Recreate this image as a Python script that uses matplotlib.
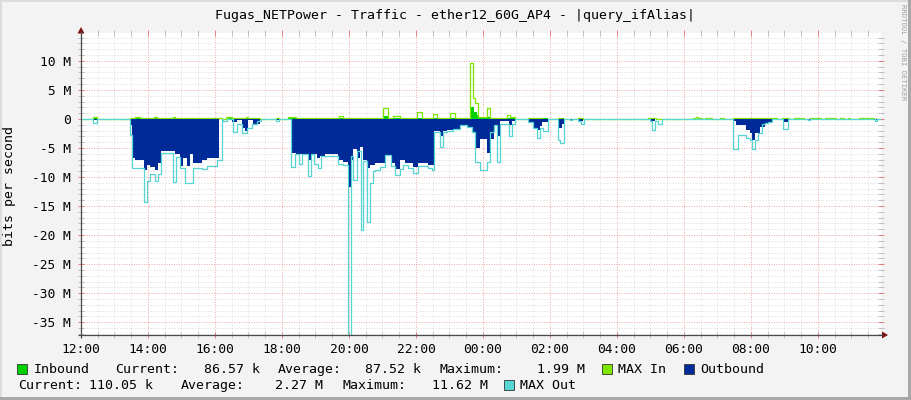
import matplotlib
matplotlib.use('Agg')
import matplotlib.pyplot as plt
from matplotlib.patches import Rectangle, Polygon
from matplotlib.ticker import MultipleLocator
import numpy as np

plt.rcParams['font.family'] = ['DejaVu Sans Mono']

# ---------------- data ----------------
title = "Fugas_NETPower - Traffic - ether12_60G_AP4 - |query_ifAlias|"
y_label = "bits per second"
credit = "RRDTOOL / TOBI OETIKER"
x_tick_labels = ["12:00", "14:00", "16:00", "18:00", "20:00", "22:00",
                 "00:00", "02:00", "04:00", "06:00", "08:00", "10:00"]
y_ticks = [10, 5, 0, -5, -10, -15, -20, -25, -30, -35]
y_tick_labels = ["10 M", "5 M", "0", "-5 M", "-10 M", "-15 M", "-20 M",
                 "-25 M", "-30 M", "-35 M"]
END = "11:53"

# Inbound average (Mbit/s), step start times
inbound_t = ["12:00", "12:22", "12:29", "13:27", "13:37", "13:45", "14:10", "14:16",
             "14:44", "14:49", "16:12", "16:24", "17:20", "18:10", "21:02", "21:10",
             "23:38", "23:44", "23:50", "23:53", "00:07", "00:13", "00:58", "01:21",
             "01:57", "02:14", "02:26", "02:50", "03:00", "07:28", "08:45"]
inbound_v = [0, 0.15, 0, 0.1, 0.2, 0.1, 0.2, 0.1,
             0.2, 0.1, 0, 0.1, 0, 0.1, 0.5, 0.1,
             1.99, 1.2, 0.7, 0.1, 0.3, 0.1, 0, 0.1,
             0, 0.1, 0, 0.05, 0, 0.08, 0]

# MAX In (Mbit/s)
max_in_t = ["12:00", "12:22", "12:29", "13:27", "13:37", "13:45", "14:10", "14:16",
            "14:44", "14:49", "16:12", "16:20", "16:30", "16:55", "17:00", "17:20",
            "17:50", "17:55", "18:10", "18:25", "19:43", "19:49", "21:01", "21:10",
            "21:19", "21:31", "22:01", "22:10", "22:31", "22:37", "23:01", "23:10",
            "23:37", "23:43", "23:46", "23:52", "00:07", "00:13", "00:43", "00:49",
            "00:58", "01:21", "01:45", "02:14", "02:20", "02:50", "03:00", "04:56",
            "05:10", "06:16", "06:21", "06:25", "06:32", "06:37", "06:50", "07:05",
            "07:12", "07:28", "08:47", "08:55", "09:08", "09:17", "09:35", "09:45",
            "10:06", "10:13", "10:33", "10:40", "10:46", "10:53", "10:58", "11:13",
            "11:40"]
max_in_v = [0, 0.3, 0, 0.2, 0.4, 0.2, 0.4, 0.2,
            0.4, 0.2, 0, 0.3, 0.1, 0.3, 0.1, 0,
            0.1, 0, 0.3, 0.2, 0.5, 0.2, 1.9, 0.2,
            0.5, 0.2, 1.2, 0.2, 0.9, 0.2, 1.0, 0.2,
            9.6, 3.6, 2.8, 0.3, 1.9, 0.2, 0.7, 0.3,
            0, 0.2, 0, 0.2, 0, 0.2, 0, 0.15,
            0, 0.2, 0.4, 0.2, 0, 0.15, 0, 0.15,
            0, 0.15, 0, 0.15, 0, 0.15, 0, 0.15,
            0, 0.15, 0, 0.15, 0, 0.15, 0, 0.15,
            0]

# Outbound average (Mbit/s, drawn below zero)
out_t = ["12:00", "12:22", "12:29", "13:27", "13:31", "13:37", "13:52", "13:58",
         "14:04", "14:13", "14:18", "14:23", "14:48", "14:57", "15:03", "15:09",
         "15:15", "15:21", "15:36", "15:45", "16:08", "16:30", "16:39", "16:48",
         "16:54", "17:00", "17:08", "17:20", "17:50", "17:55", "18:16", "18:25",
         "18:47", "18:53", "19:02", "19:08", "19:17", "19:41", "19:50", "19:59",
         "20:03", "20:08", "20:14", "20:20", "20:26", "20:32", "20:38", "20:47",
         "20:56", "21:04", "21:16", "21:22", "21:31", "21:40", "21:55", "22:04",
         "22:22", "22:33", "22:43", "22:49", "22:55", "23:07", "23:19", "23:31",
         "23:40", "23:46", "23:55", "00:07", "00:13", "00:19", "00:25", "00:31",
         "00:46", "00:52", "00:58", "01:21", "01:30", "01:36", "01:42", "01:45",
         "01:57", "02:14", "02:21", "02:26", "02:36", "02:40", "02:52", "03:00",
         "04:59", "05:08", "07:28", "07:34", "07:52", "07:58", "08:02", "08:07",
         "08:16", "08:25", "08:31", "08:37", "08:58", "09:06", "09:42", "09:46",
         "11:42", "11:46"]
out_v = [0, 0.1, 0, 1.0, 6.7, 7.1, 8.8, 8.0,
         8.2, 8.8, 7.6, 5.6, 6.0, 8.1, 6.7, 8.1,
         6.0, 7.5, 7.0, 6.7, 0, 0.5, 0.1, 1.6,
         2.0, 0.1, 0.8, 0, 0.2, 0, 5.9, 6.1,
         7.1, 6.1, 6.8, 6.3, 6.1, 7.0, 7.4, 11.7,
         7.0, 5.1, 6.8, 4.8, 7.0, 8.5, 8.0, 7.6,
         7.5, 6.2, 7.6, 8.6, 7.1, 7.5, 8.2, 7.5,
         7.9, 2.0, 3.0, 2.0, 1.9, 1.8, 1.1, 1.4,
         2.2, 5.0, 3.5, 5.9, 3.5, 1.0, 3.0, 0.4,
         1.0, 0.3, 0, 0.6, 1.5, 1.9, 1.2, 0.6,
         0, 1.6, 0.9, 0, 0.2, 0, 0.4, 0,
         0.4, 0, 0.4, 1.0, 1.9, 2.5, 3.6, 2.5,
         1.3, 0.7, 0.5, 0, 0.5, 0, 0.2, 0,
         0.2, 0]

# MAX Out (Mbit/s, drawn below zero)
max_out_t = ["12:00", "12:22", "12:29", "13:27", "13:31", "13:52", "13:58", "14:04",
             "14:13", "14:18", "14:23", "14:45", "14:51", "14:57", "15:06", "15:21",
             "15:36", "15:45", "16:04", "16:12", "16:15", "16:21", "16:33", "16:39",
             "16:48", "16:57", "17:06", "17:15", "17:23", "17:50", "17:55", "18:16",
             "18:23", "18:30", "18:35", "18:46", "18:52", "18:58", "19:04", "19:10",
             "19:41", "19:50", "19:59", "20:03", "20:08", "20:14", "20:22", "20:26",
             "20:32", "20:38", "20:43", "20:47", "20:56", "21:04", "21:16", "21:22",
             "21:31", "21:37", "21:46", "21:55", "22:04", "22:22", "22:28", "22:33",
             "22:43", "22:49", "22:55", "23:07", "23:19", "23:31", "23:40", "23:46",
             "23:55", "00:07", "00:13", "00:19", "00:25", "00:31", "00:46", "00:52",
             "00:58", "01:21", "01:30", "01:36", "01:42", "01:48", "01:57", "02:14",
             "02:18", "02:26", "02:36", "02:40", "02:50", "02:55", "03:01", "04:59",
             "05:03", "05:08", "05:14", "05:20", "07:28", "07:37", "07:52", "07:58",
             "08:02", "08:07", "08:13", "08:19", "08:25", "08:31", "08:37", "08:58",
             "09:06", "09:42", "09:46", "11:42", "11:46"]
max_out_v = [0, 0.7, 0, 2.8, 8.5, 14.3, 10.6, 9.5,
             10.6, 9.5, 5.9, 10.8, 6.5, 8.5, 11.0, 8.5,
             8.7, 8.1, 7.0, 0, 0.4, 0, 2.2, 0.8,
             2.4, 1.6, 0.8, 0.4, 0, 0.3, 0, 8.2,
             6.1, 7.7, 6.1, 9.9, 6.1, 7.8, 8.5, 6.3,
             7.7, 8.0, 40.0, 6.3, 10.5, 5.6, 19.1, 7.3,
             17.7, 11.0, 9.0, 8.8, 8.3, 6.2, 8.1, 9.7,
             8.7, 7.9, 8.5, 9.3, 8.1, 8.5, 8.8, 2.2,
             4.8, 2.2, 2.0, 1.8, 1.0, 1.4, 2.2, 7.4,
             8.8, 7.4, 2.2, 1.0, 7.4, 0.8, 3.0, 0.8,
             0, 0.6, 1.6, 3.2, 1.6, 2.0, 0, 3.6,
             4.1, 0, 0.2, 0, 0.4, 0.8, 0, 0.4,
             1.9, 0.4, 0.8, 0, 5.1, 2.8, 3.2, 3.6,
             5.2, 3.6, 2.5, 0.9, 0.7, 0.6, 0, 1.8,
             0, 0.2, 0, 0.3, 0]

legend_row1 = ["Inbound", "Current:", "86.57 k", "Average:", "87.52 k",
               "Maximum:", "1.99 M", "MAX In", "Outbound"]
legend_row2 = ["Current:", "110.05 k", "Average:", "2.27 M", "Maximum:",
               "11.62 M", "MAX Out"]

# ---------------- style ----------------
C_IN = '#00CF00'
C_MAXIN = '#7EE600'
C_OUT = '#002A97'
C_MAXOUT = '#55D6D3'
GRID = '#D9D9D9'
MGRID = '#F0ABAB'
AXIS = '#4A4A4A'
ARROW = '#7F1111'
BG = '#F3F3F3'
FS = 9.3

W, H = 911, 400
L, R, T, B = 81, 881, 33, 335


def hours(s):
    h, m = map(int, s.split(':'))
    return (h - 12) % 24 + m / 60.0


def series(times, vals):
    t = np.array([hours(s) for s in times] + [hours(END)])
    v = np.array(list(vals) + [vals[-1]], dtype=float)
    return t, v


fig = plt.figure(figsize=(W / 100, H / 100), dpi=100)
fig.patch.set_facecolor(BG)

ax = fig.add_axes([L / W, 1 - B / H, (R - L) / W, (B - T) / H])
ax.set_facecolor('white')

ti, vi = series(inbound_t, inbound_v)
ax.fill_between(ti, 0, vi, step='post', color=C_IN, lw=0, zorder=3)
tmi, vmi = series(max_in_t, max_in_v)
ax.step(tmi, vmi, where='post', color=C_MAXIN, lw=0.9, zorder=4)
to, vo = series(out_t, out_v)
ax.fill_between(to, 0, -vo, step='post', color=C_OUT, lw=0, zorder=5)
tmo, vmo = series(max_out_t, max_out_v)
ax.step(tmo, -vmo, where='post', color=C_MAXOUT, lw=0.9, zorder=6)

ax.set_xlim(0, hours(END))
ax.set_ylim(-37.2, 14.8)
ax.set_xticks([hours(s) for s in x_tick_labels])
ax.set_xticklabels(x_tick_labels)
ax.xaxis.set_minor_locator(MultipleLocator(0.5))
ax.set_yticks(y_ticks)
ax.set_yticklabels(y_tick_labels)
ax.yaxis.set_minor_locator(MultipleLocator(1))
ax.set_axisbelow(True)
ax.grid(which='minor', color=GRID, linestyle=(0, (1, 2)), lw=0.72)
ax.grid(which='major', color=MGRID, linestyle=(0, (1, 1.5)), lw=0.72)
ax.tick_params(which='both', direction='inout', top=True, right=True,
               width=0.72, length=4)
ax.tick_params(which='major', color='#E58080', labelsize=FS, labelcolor='#000000')
ax.tick_params(which='minor', color='#C0C0C0')
ax.tick_params(axis='y', which='major', pad=5.2)
ax.tick_params(axis='x', which='major', pad=3.5)
for s in ax.spines.values():
    s.set_visible(False)

# overlay in pixel coordinates for frame decorations and legend
ov = fig.add_axes([0, 0, 1, 1], zorder=10)
ov.set_xlim(0, W)
ov.set_ylim(H, 0)
ov.axis('off')
ov.patch.set_alpha(0)

# 3D border
ov.add_patch(Rectangle((0, 0), W, 2, color='#DCDCDC', lw=0))
ov.add_patch(Rectangle((0, 0), 2, H, color='#DCDCDC', lw=0))
ov.add_patch(Rectangle((0, H - 3), W, 3, color='#A8A8A8', lw=0))
ov.add_patch(Rectangle((W - 3, 0), 3, H, color='#A8A8A8', lw=0))

# axes with arrows
ov.plot([L, L], [B + 3, T - 2], color=AXIS, lw=0.9, solid_capstyle='butt')
ov.plot([L - 3, R + 2], [B, B], color=AXIS, lw=0.9, solid_capstyle='butt')
ov.add_patch(Polygon([[L, T - 6], [L - 3.5, T + 0.5], [L + 3.5, T + 0.5]],
                     closed=True, color=ARROW, lw=0))
ov.add_patch(Polygon([[R + 7, B], [R + 1, B - 3.5], [R + 1, B + 3.5]],
                     closed=True, color=ARROW, lw=0))

# title, axis label, credit
ov.text(455, 19, title, ha='center', va='baseline', fontsize=9.5, color='#000000')
ov.text(10, 186, y_label, ha='center', va='center', rotation=90, fontsize=9.5)
ov.text(903, 52, credit, ha='center', va='center', rotation=270,
        fontsize=5.2, color='#A0A0A0')

# legend
row1_x = [34.0, 115.5, 203.8, 278.2, 365.2, 439.9, 537.0, 618.2, 699.8]
row2_x = [17.8, 89.3, 180.6, 275.2, 342.2, 432.2, 520.2]
for x, s in zip(row1_x, legend_row1):
    ov.text(x, 373.3, s, ha='left', va='baseline', fontsize=9.5)
for x, s in zip(row2_x, legend_row2):
    ov.text(x, 389.3, s, ha='left', va='baseline', fontsize=9.5)
for x, y, c in [(17.4, 363.5, C_IN), (601.7, 363.5, C_MAXIN),
                (684.0, 363.5, C_OUT), (503.5, 379.5, C_MAXOUT)]:
    ov.add_patch(Rectangle((x, y), 10, 10, facecolor=c, edgecolor='#333333', lw=0.6))

fig.savefig('out.png', dpi=100, facecolor=fig.get_facecolor())
